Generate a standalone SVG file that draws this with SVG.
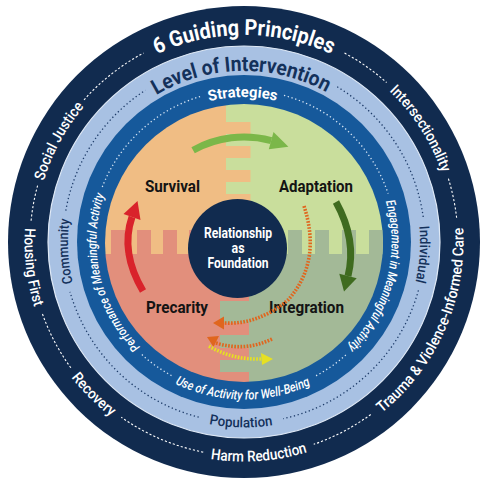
<svg xmlns="http://www.w3.org/2000/svg" width="488" height="483" viewBox="0 0 488 483">
<defs>
<style>
.t{font-family:Roboto,"Liberation Sans",sans-serif}
.w{fill:#fff}
.n{fill:#14315b}
.k{fill:#141414;font-weight:bold;font-size:17px}
.s15{font-size:15px;font-weight:500}
.s14{font-size:14px;font-weight:500}
.s13{font-size:13px;font-style:italic;font-weight:500}
.b{font-weight:bold}
.dash{fill:none;stroke:#fff;stroke-width:1.1;stroke-dasharray:2.2 2}
.dotn{fill:none;stroke:#1d3b68;stroke-width:1.3;stroke-dasharray:1.3 2.6}
.dotw{fill:none;stroke:#d8e6f5;stroke-width:1.3;stroke-dasharray:1.3 2.6}
.dotted{fill:none;stroke-width:3.6;stroke-dasharray:1.7 1.4}
</style>
<clipPath id="ic"><circle cx="244" cy="243" r="139"/></clipPath>
<path id="p1" d="M64.7,138.5 A207,207 0 0 1 423.3,138.5"/>
<path id="p2" d="M234.1,32.7 A209.5,209.5 0 0 1 430.2,338.1"/>
<path id="p3" d="M268.1,460.2 A219.5,219.5 0 0 0 420.9,112.1"/>
<path id="p4" d="M62,364.7 A219.5,219.5 0 0 0 441.3,338.2"/>
<path id="p5" d="M31.6,186.7 A219.5,219.5 0 0 0 302.3,453.6"/>
<path id="p6" d="M112.5,66.2 A219.5,219.5 0 0 0 157.5,443.7"/>
<path id="p7" d="M65.2,351.1 A209.5,209.5 0 0 1 238.9,32.6"/>
<path id="p8" d="M94.4,159.1 A171,171 0 0 1 390.6,153.9"/>
<path id="p9" d="M342.4,96.1 A176,176 0 0 1 321.2,400.2"/>
<path id="p10" d="M81.8,331.9 A185.5,185.5 0 0 0 403,337.5"/>
<path id="p11" d="M164.1,398.8 A176,176 0 0 1 148.1,94.4"/>
<path id="p12" d="M117.8,170.6 A145,145 0 0 1 368.9,168.4"/>
<path id="p13" d="M347.8,137.2 A147.5,147.5 0 0 1 282.9,384.3"/>
<path id="p14" d="M106.9,319.6 A157.5,157.5 0 0 0 379.7,321.9"/>
<path id="p15" d="M201.6,383.3 A147.5,147.5 0 0 1 142.8,134.6"/>
</defs>

<g id="ring-principles">
<circle cx="244" cy="242" r="236" fill="#112b4f"/>
<path class="dash" d="M84,99.9 A214,214 0 0 1 143.5,53.1 M344.5,53.1 A214,214 0 0 1 386.6,82.5 M448.4,178.7 A214,214 0 0 1 456.7,218.5 M370.7,414.5 A214,214 0 0 1 313.7,444.3 M203.2,452.1 A214,214 0 0 1 121.3,417.3 M70.9,367.8 A214,214 0 0 1 42,312.7 M31.1,220.7 A214,214 0 0 1 37.9,184.5"/>
<text class="t w b" style="font-size:22px"><textPath href="#p1" startOffset="50%" text-anchor="middle" textLength="180" lengthAdjust="spacingAndGlyphs">6 Guiding Principles</textPath></text>
<text class="t w s15"><textPath href="#p2" startOffset="50%" text-anchor="middle" textLength="98" lengthAdjust="spacingAndGlyphs">Intersectionality</textPath></text>
<text class="t w s15"><textPath href="#p3" startOffset="50%" text-anchor="middle" textLength="210" lengthAdjust="spacingAndGlyphs">Trauma &amp; Violence-Informed Care</textPath></text>
<text class="t w s15"><textPath href="#p4" startOffset="50%" text-anchor="middle" textLength="98" lengthAdjust="spacingAndGlyphs">Harm Reduction</textPath></text>
<text class="t w s15"><textPath href="#p5" startOffset="50%" text-anchor="middle" textLength="56" lengthAdjust="spacingAndGlyphs">Recovery</textPath></text>
<text class="t w s15"><textPath href="#p6" startOffset="50%" text-anchor="middle" textLength="80" lengthAdjust="spacingAndGlyphs">Housing First</textPath></text>
<text class="t w s15"><textPath href="#p7" startOffset="50%" text-anchor="middle" textLength="85" lengthAdjust="spacingAndGlyphs">Social Justice</textPath></text>
</g>

<g id="ring-intervention">
<circle cx="244" cy="242" r="196" fill="#a8c1e3" stroke="#dfe9f6" stroke-width="1.2"/>
<path class="dotn" d="M337.2,86.8 A181,181 0 0 1 423.4,218.4 M418.4,290.4 A181,181 0 0 1 283.2,418.7 M198.7,417.2 A181,181 0 0 1 70,291.9 M65.8,210.6 A181,181 0 0 1 145.4,90.2"/>
<text class="t n b" style="font-size:21px"><textPath href="#p8" startOffset="50%" text-anchor="middle" textLength="178" lengthAdjust="spacingAndGlyphs">Level of Intervention</textPath></text>
<text class="t n s14"><textPath href="#p9" startOffset="50%" text-anchor="middle" textLength="56" lengthAdjust="spacingAndGlyphs">Individual</textPath></text>
<text class="t n s14"><textPath href="#p10" startOffset="50%" text-anchor="middle" textLength="64" lengthAdjust="spacingAndGlyphs">Population</textPath></text>
<text class="t n s14"><textPath href="#p11" startOffset="50%" text-anchor="middle" textLength="64" lengthAdjust="spacingAndGlyphs">Community</textPath></text>
</g>

<g id="ring-strategies">
<circle cx="244" cy="242" r="167" fill="#16599b"/>
<path class="dotw" d="M284,95.4 A152,152 0 0 1 388.1,193.6 M345.8,354.9 A152,152 0 0 1 314.2,376.8 M171.5,375.6 A152,152 0 0 1 141.9,354.6 M102.3,187 A152,152 0 0 1 201.5,96.1"/>
<text class="t w b s15" style="font-weight:bold"><textPath href="#p12" startOffset="50%" text-anchor="middle" textLength="68" lengthAdjust="spacingAndGlyphs">Strategies</textPath></text>
<text class="t w s13"><textPath href="#p13" startOffset="50%" text-anchor="middle" textLength="158" lengthAdjust="spacingAndGlyphs">Engagement in Meaningful Activity</textPath></text>
<text class="t w s13"><textPath href="#p14" startOffset="50%" text-anchor="middle" textLength="140" lengthAdjust="spacingAndGlyphs">Use of Activity for Well-Being</textPath></text>
<text class="t w s13"><textPath href="#p15" startOffset="50%" text-anchor="middle" textLength="165" lengthAdjust="spacingAndGlyphs">Performance of Meaningful Activity</textPath></text>
</g>

<g id="quadrants" clip-path="url(#ic)">
<rect x="100" y="100" width="126" height="154" fill="#f0bd84"/>
<rect x="226" y="100" width="170" height="154" fill="#c9de9c"/>
<g fill="#f0bd84">
<rect x="225.5" y="122" width="25" height="12"/>
<rect x="225.5" y="146" width="25" height="12"/>
<rect x="225.5" y="170" width="25" height="12"/>
<rect x="225.5" y="194" width="25" height="16"/>
</g>
<rect x="100" y="254" width="149" height="140" fill="#e28f7c"/>
<rect x="249" y="254" width="147" height="140" fill="#a3b997"/>
<g fill="#a3b997">
<rect x="220" y="301" width="29.5" height="22"/>
<rect x="220" y="335" width="29.5" height="13"/>
<rect x="220" y="360" width="29.5" height="12"/>
</g>
<g fill="#e28f7c">
<rect x="111" y="230" width="14" height="24.5"/>
<rect x="137" y="230" width="14" height="24.5"/>
<rect x="163" y="230" width="14" height="24.5"/>
<rect x="189" y="230" width="14" height="24.5"/>
</g>
<g fill="#a3b997">
<rect x="288" y="230" width="14" height="24.5"/>
<rect x="315" y="230" width="14" height="24.5"/>
<rect x="342" y="230" width="14" height="24.5"/>
<rect x="369" y="230" width="14" height="24.5"/>
</g>
</g>

<g id="survival"><text class="t k" x="172.5" y="192" text-anchor="middle" textLength="55" lengthAdjust="spacingAndGlyphs">Survival</text></g>
<g id="adaptation"><text class="t k" x="316" y="192" text-anchor="middle" textLength="74" lengthAdjust="spacingAndGlyphs">Adaptation</text></g>
<g id="precarity"><text class="t k" x="177" y="313" text-anchor="middle" textLength="62" lengthAdjust="spacingAndGlyphs">Precarity</text></g>
<g id="integration"><text class="t k" x="306.5" y="313" text-anchor="middle" textLength="75" lengthAdjust="spacingAndGlyphs">Integration</text></g>

<g id="foundation">
<circle cx="237.5" cy="248.5" r="49.5" fill="#112b4f"/>
<g class="t w b" style="font-size:15.5px" text-anchor="middle">
<text x="238" y="238" textLength="68" lengthAdjust="spacingAndGlyphs">Relationship</text>
<text x="238" y="252.5" textLength="13" lengthAdjust="spacingAndGlyphs">as</text>
<text x="238" y="268" textLength="61" lengthAdjust="spacingAndGlyphs">Foundation</text>
</g>
</g>

<g id="connectors">
<path d="M193.1,150.2 A105,105 0 0 1 271.2,140.6" fill="none" stroke="#7bb749" stroke-width="7"/>
<polygon points="268.8,149.3 273.5,131.9 288.4,146.8" fill="#7bb749"/>
<path d="M336,202 Q357,240 348,276" fill="none" stroke="#3f6b1f" stroke-width="7"/>
<polygon points="356.7,278.2 339.3,273.8 344,291.5" fill="#3f6b1f"/>
<path d="M143,291 Q120,252 132,217" fill="none" stroke="#d9232b" stroke-width="7"/>
<polygon points="140.5,219.9 123.5,214.1 137.5,200.9" fill="#d9232b"/>
<path class="dotted" stroke="#e0661e" d="M304,206 Q322,262 288,300 Q258,325 224,323"/>
<polygon points="224,316.5 224,329.5 213,323" fill="#e0661e"/>
<path class="dotted" stroke="#e0661e" d="M272,339 Q245,352 216,343"/>
<polygon points="219,336 213.5,347 207,337" fill="#e0661e"/>
<path class="dotted" stroke="#e6e022" d="M209,346 Q232,360 262,359"/>
<polygon points="261,353 262,365 273,359" fill="#e6e022"/>
</g>
</svg>
